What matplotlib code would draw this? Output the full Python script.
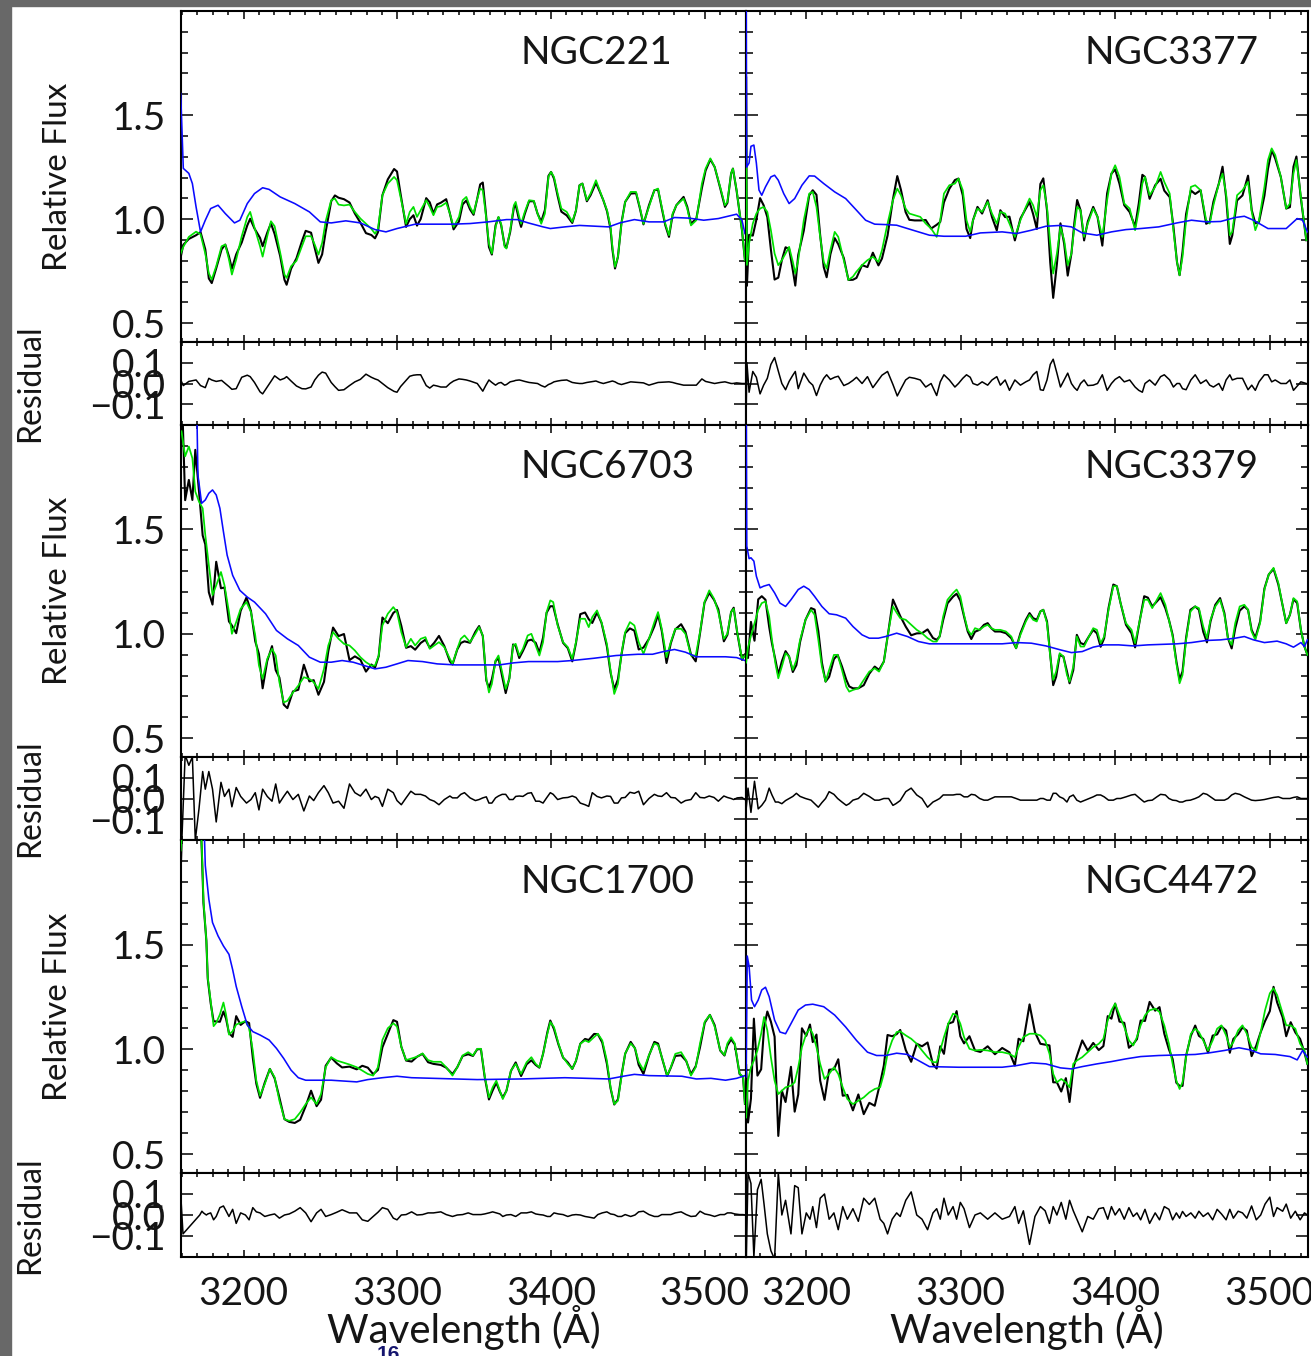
import numpy as np
import matplotlib
matplotlib.use("Agg")
import matplotlib.pyplot as plt
from matplotlib.ticker import MultipleLocator, FixedLocator, NullLocator
from matplotlib.patches import Rectangle

# ---------------------------------------------------------------------------
# spectra: wavelength (A), best fit (green), fit - data residual, and the
# template continuum (blue).  observed flux = fit - resid
# ---------------------------------------------------------------------------
ngc221_wave = [
    3159.1, 3160.8, 3164.4, 3169.1, 3172.0, 3175.1, 3177.4, 3179.3, 3182.2, 3185.7,
    3188.1, 3190.5, 3192.4, 3195.2, 3198.8, 3202.4, 3204.3, 3207.1, 3210.7, 3212.4,
    3215.4, 3217.8, 3220.2, 3223.8, 3226.6, 3228.0, 3230.9, 3234.4, 3238.0, 3240.4,
    3243.9, 3246.3, 3248.7, 3251.1, 3253.4, 3257.0, 3259.4, 3261.8, 3265.3, 3268.9,
    3272.4, 3276.0, 3279.6, 3283.1, 3285.5, 3287.4, 3290.3, 3293.8, 3297.9, 3299.8,
    3302.1, 3305.7, 3308.1, 3310.5, 3312.8, 3315.2, 3318.8, 3321.1, 3323.5, 3325.9,
    3328.3, 3331.8, 3334.2, 3336.6, 3340.1, 3342.5, 3344.9, 3347.3, 3349.6, 3352.0,
    3353.9, 3355.6, 3357.5, 3359.6, 3361.5, 3363.9, 3365.8, 3367.5, 3369.8, 3371.0,
    3373.4, 3375.8, 3377.0, 3379.3, 3380.5, 3382.9, 3385.7, 3388.8, 3391.2, 3393.6,
    3396.0, 3398.3, 3400.0, 3401.9, 3404.3, 3406.7, 3410.2, 3413.8, 3416.2, 3418.5,
    3420.4, 3423.3, 3425.7, 3429.2, 3431.6, 3434.0, 3436.4, 3438.7, 3439.9, 3441.6,
    3443.5, 3445.8, 3448.2, 3451.8, 3455.3, 3457.7, 3460.1, 3463.7, 3467.2, 3469.6,
    3472.0, 3474.3, 3476.7, 3479.1, 3481.5, 3486.2, 3488.6, 3491.0, 3494.5, 3498.1,
    3500.5, 3503.6, 3506.4, 3510.0, 3513.1, 3514.7, 3517.1, 3518.3, 3520.7, 3524.2,
    3526.1]
ngc221_fit = [
    0.835, 0.867, 0.915, 0.940, 0.928, 0.835, 0.740, 0.710, 0.774, 0.870,
    0.878, 0.806, 0.734, 0.806, 0.918, 1.010, 1.035, 0.960, 0.870, 0.820,
    0.918, 0.990, 0.966, 0.840, 0.734, 0.718, 0.774, 0.800, 0.870, 0.918,
    0.918, 0.878, 0.830, 0.886, 0.990, 1.091, 1.099, 1.070, 1.066, 1.070,
    1.035, 1.003, 0.978, 0.954, 0.930, 0.954, 1.115, 1.171, 1.203, 1.187,
    1.107, 0.978, 1.035, 1.059, 1.011, 1.043, 1.091, 1.059, 1.019, 1.059,
    1.062, 1.079, 1.027, 0.963, 1.011, 1.091, 1.107, 1.059, 1.027, 1.099,
    1.147, 1.139, 1.027, 0.883, 0.835, 0.962, 1.011, 0.978, 0.867, 0.859,
    0.946, 1.067, 1.083, 1.011, 0.978, 1.035, 1.091, 1.088, 1.027, 0.978,
    1.027, 1.203, 1.227, 1.203, 1.123, 1.051, 1.035, 0.987, 1.043, 1.163,
    1.171, 1.091, 1.123, 1.187, 1.139, 1.091, 1.043, 0.962, 0.867, 0.771,
    0.819, 0.978, 1.083, 1.131, 1.131, 1.059, 0.978, 1.059, 1.139, 1.147,
    1.059, 0.978, 0.923, 1.027, 1.067, 1.099, 1.051, 0.970, 0.995, 1.171,
    1.243, 1.292, 1.251, 1.155, 1.067, 1.083, 1.219, 1.243, 1.139, 0.946,
    0.803]
ngc221_resid = [
    0.017, -0.01, 0.01, 0.017, -0.01, -0.02, 0.025, 0.017, 0.01, 0.015,
    0.0, -0.015, -0.028, -0.025, 0.03, 0.04, 0.033, 0.005, -0.04, -0.05,
    -0.017, 0.01, 0.037, 0.017, 0.025, 0.033, 0.012, -0.012, -0.025, -0.026,
    -0.017, 0.017, 0.04, 0.055, 0.05, 0.005, -0.015, -0.033, -0.03, -0.01,
    0.008, 0.02, 0.045, 0.03, 0.022, 0.017, 0.0, -0.02, -0.038, -0.042,
    -0.015, 0.015, 0.035, 0.04, 0.042, 0.042, -0.01, -0.022, -0.008, -0.012,
    -0.017, -0.017, 0.0, 0.012, 0.022, 0.02, 0.017, 0.012, 0.006, 0.0,
    -0.02, -0.037, -0.01, 0.017, 0.005, -0.008, 0.002, 0.005, -0.008, -0.005,
    0.008, 0.012, 0.015, 0.017, 0.015, 0.01, 0.005, 0.002, 0.0, -0.01,
    -0.017, -0.005, 0.0, 0.008, 0.012, 0.015, 0.017, 0.005, 0.002, 0.0,
    0.0, 0.005, 0.008, 0.012, 0.005, 0.0, 0.005, 0.01, 0.012, 0.008,
    0.0, -0.005, 0.0, 0.008, 0.006, 0.005, 0.003, -0.008, 0.0, 0.005,
    0.006, 0.007, 0.008, 0.005, 0.0, -0.008, -0.008, -0.008, -0.008, 0.022,
    0.01, 0.005, 0.0, 0.005, 0.008, 0.005, 0.0, 0.0, 0.003, 0.0,
    0.0]
ngc221_cont_wave = [
    3159.1, 3160.8, 3164.4, 3166.7, 3169.1, 3172.0, 3175.1, 3178.6, 3183.4, 3188.1,
    3194.1, 3197.6, 3202.4, 3207.1, 3212.4, 3216.6, 3223.8, 3233.3, 3242.8, 3249.9,
    3257.0, 3266.5, 3276.0, 3285.5, 3292.6, 3299.8, 3311.6, 3335.4, 3347.3, 3359.1,
    3371.0, 3378.1, 3385.2, 3394.8, 3399.5, 3409.0, 3418.5, 3437.5, 3444.7, 3454.2,
    3463.7, 3473.2, 3480.3, 3489.8, 3499.3, 3508.8, 3520.7, 3524.2, 3526.1]
ngc221_cont = [
    1.604, 1.244, 1.220, 1.171, 1.059, 0.939, 0.995, 1.051, 1.067, 1.027,
    0.982, 0.995, 1.075, 1.123, 1.151, 1.143, 1.107, 1.075, 1.035, 0.987,
    0.982, 0.992, 0.982, 0.950, 0.939, 0.955, 0.976, 0.976, 0.979, 0.987,
    0.998, 0.998, 0.982, 0.963, 0.955, 0.963, 0.970, 0.963, 0.982, 0.998,
    0.987, 0.987, 1.008, 1.005, 0.995, 1.003, 1.024, 0.995, 0.931]

ngc3377_wave = [
    3161.1, 3161.6, 3163.0, 3165.4, 3167.7, 3170.1, 3172.4, 3174.8, 3177.1, 3179.5,
    3181.9, 3184.2, 3186.6, 3188.9, 3191.3, 3192.9, 3194.8, 3198.4, 3201.9, 3204.2,
    3206.6, 3209.0, 3211.3, 3213.2, 3215.6, 3218.4, 3220.7, 3224.3, 3227.3, 3230.2,
    3232.5, 3236.1, 3239.6, 3243.1, 3246.7, 3249.0, 3252.6, 3256.1, 3258.9, 3261.3,
    3264.3, 3266.7, 3270.2, 3273.8, 3277.3, 3280.8, 3284.4, 3286.7, 3289.1, 3292.6,
    3296.2, 3298.5, 3301.3, 3303.7, 3306.1, 3307.9, 3310.8, 3313.8, 3317.4, 3320.2,
    3323.3, 3325.6, 3328.7, 3331.5, 3335.0, 3338.6, 3342.1, 3344.5, 3346.8, 3349.2,
    3351.5, 3353.4, 3355.8, 3357.9, 3359.8, 3362.2, 3364.5, 3366.9, 3369.2, 3371.6,
    3373.5, 3375.3, 3377.5, 3379.8, 3382.2, 3385.7, 3388.5, 3391.6, 3394.7, 3397.5,
    3399.9, 3402.7, 3405.8, 3409.3, 3412.8, 3415.2, 3417.5, 3419.2, 3422.2, 3425.8,
    3429.3, 3431.7, 3435.2, 3437.6, 3439.9, 3441.6, 3443.5, 3445.8, 3448.9, 3451.7,
    3455.2, 3458.8, 3461.1, 3463.5, 3467.0, 3469.4, 3471.7, 3474.1, 3475.7, 3478.8,
    3482.3, 3485.9, 3488.3, 3490.6, 3493.0, 3496.5, 3498.8, 3501.2, 3503.5, 3507.1,
    3510.6, 3513.0, 3515.3, 3517.2, 3520.1, 3523.6]
ngc3377_fit = [
    1.54, 0.78, 0.883, 0.979, 1.027, 1.051, 1.059, 1.035, 0.947, 0.835,
    0.779, 0.803, 0.835, 0.867, 0.795, 0.739, 0.803, 0.995, 1.123, 1.131,
    1.059, 0.915, 0.795, 0.763, 0.851, 0.939, 0.915, 0.803, 0.708, 0.724,
    0.748, 0.779, 0.803, 0.819, 0.795, 0.851, 0.979, 1.091, 1.147, 1.115,
    1.051, 1.027, 1.019, 1.011, 0.979, 0.955, 0.915, 0.995, 1.123, 1.163,
    1.171, 1.195, 1.139, 0.995, 0.939, 0.995, 1.051, 1.035, 1.083, 1.027,
    0.979, 1.035, 1.027, 0.979, 0.915, 0.995, 1.059, 1.099, 1.067, 1.011,
    1.139, 1.163, 1.059, 0.883, 0.739, 0.835, 0.963, 0.899, 0.779, 0.835,
    0.963, 1.059, 1.043, 0.915, 0.979, 1.051, 1.011, 0.915, 1.091, 1.219,
    1.259, 1.203, 1.075, 1.051, 0.947, 1.043, 1.171, 1.203, 1.115, 1.155,
    1.227, 1.179, 1.123, 0.947, 0.795, 0.731, 0.819, 0.995, 1.155, 1.163,
    1.139, 0.995, 0.979, 1.067, 1.171, 1.219, 1.123, 0.923, 0.939, 1.115,
    1.139, 1.179, 1.035, 0.947, 0.995, 1.155, 1.284, 1.340, 1.308, 1.203,
    1.051, 1.075, 1.219, 1.284, 1.107, 0.899]
ngc3377_resid = [
    -0.14, 0.1, -0.042, 0.058, 0.03, -0.05, -0.008, 0.025, 0.092, 0.125,
    0.06, 0.0, -0.03, 0.01, 0.04, 0.058, -0.025, 0.05, 0.008, -0.008,
    -0.058, -0.008, 0.025, 0.042, 0.02, 0.03, 0.035, -0.01, 0.0, 0.015,
    0.03, 0.0, 0.033, -0.02, 0.017, 0.04, 0.058, -0.005, -0.06, -0.025,
    0.017, 0.03, 0.025, 0.017, -0.017, 0.0, -0.058, 0.008, 0.042, 0.017,
    -0.017, 0.0, 0.025, 0.042, 0.03, 0.0, -0.008, 0.008, -0.008, 0.017,
    0.033, -0.008, 0.017, -0.033, 0.017, -0.008, 0.008, 0.017, 0.042, 0.058,
    -0.03, -0.033, 0.017, 0.092, 0.117, 0.05, -0.017, 0.017, 0.05, 0.0,
    -0.02, -0.033, 0.0, 0.017, -0.01, -0.008, 0.0, 0.042, -0.033, 0.0,
    0.02, 0.033, 0.008, 0.017, -0.017, -0.033, -0.042, 0.0, 0.017, -0.008,
    0.033, 0.042, 0.017, -0.017, 0.0, 0.0, -0.025, -0.03, 0.017, 0.042,
    0.0, 0.017, -0.008, -0.017, 0.0, -0.033, 0.017, 0.042, 0.017, 0.025,
    0.025, -0.03, -0.008, -0.033, 0.008, 0.042, 0.042, 0.008, 0.017, 0.0,
    0.0, 0.017, -0.033, -0.017, 0.008, 0.0]
ngc3377_cont_wave = [
    3161.1, 3161.4, 3163.0, 3164.2, 3166.1, 3167.7, 3169.4, 3171.2, 3173.6, 3177.1,
    3179.5, 3181.9, 3185.4, 3188.9, 3192.5, 3197.2, 3201.9, 3205.4, 3211.3, 3218.4,
    3225.5, 3232.5, 3238.4, 3244.3, 3251.4, 3258.5, 3265.5, 3272.6, 3279.7, 3289.1,
    3303.2, 3312.7, 3326.8, 3336.2, 3345.7, 3355.1, 3364.5, 3371.6, 3378.6, 3388.1,
    3397.5, 3406.9, 3416.4, 3428.1, 3439.9, 3449.3, 3458.8, 3468.2, 3477.6, 3483.5,
    3489.4, 3498.8, 3510.6, 3517.7, 3521.2, 3524.3]
ngc3377_cont = [
    2.3, 1.25, 1.27, 1.35, 1.356, 1.27, 1.14, 1.115, 1.155, 1.203,
    1.211, 1.187, 1.123, 1.075, 1.099, 1.163, 1.208, 1.207, 1.171, 1.131,
    1.099, 1.043, 0.995, 0.976, 0.974, 0.971, 0.955, 0.939, 0.923, 0.918,
    0.918, 0.934, 0.939, 0.931, 0.947, 0.966, 0.970, 0.963, 0.934, 0.923,
    0.939, 0.950, 0.955, 0.963, 0.982, 0.995, 0.987, 0.989, 1.008, 1.014,
    0.995, 0.955, 0.955, 1.003, 0.995, 0.939]

ngc6703_wave = [
    3159.6, 3162.0, 3164.4, 3166.7, 3168.6, 3171.0, 3173.4, 3175.1, 3177.4, 3179.8,
    3182.2, 3185.3, 3187.6, 3190.5, 3192.4, 3195.2, 3198.1, 3201.9, 3204.8, 3207.6,
    3210.0, 3212.4, 3215.4, 3218.5, 3220.9, 3223.3, 3226.1, 3228.5, 3232.1, 3235.6,
    3239.2, 3242.8, 3245.6, 3248.7, 3252.3, 3255.1, 3258.2, 3261.8, 3265.3, 3268.9,
    3272.4, 3276.0, 3279.6, 3283.1, 3285.5, 3287.9, 3290.3, 3293.8, 3297.4, 3299.8,
    3302.6, 3305.7, 3308.8, 3311.6, 3315.2, 3318.3, 3321.1, 3324.0, 3327.1, 3330.6,
    3334.2, 3335.9, 3339.0, 3341.3, 3343.7, 3347.3, 3350.8, 3353.2, 3355.6, 3357.9,
    3359.6, 3361.5, 3363.9, 3365.8, 3368.2, 3370.5, 3372.9, 3375.3, 3377.0, 3379.3,
    3381.7, 3384.8, 3387.2, 3390.0, 3392.4, 3394.8, 3397.1, 3399.5, 3401.4, 3404.3,
    3407.8, 3410.9, 3413.8, 3416.2, 3419.0, 3422.1, 3424.5, 3426.8, 3429.9, 3432.8,
    3436.3, 3438.7, 3441.1, 3443.5, 3445.8, 3448.2, 3451.3, 3454.2, 3457.0, 3460.1,
    3463.7, 3467.2, 3469.6, 3472.0, 3475.1, 3477.9, 3480.8, 3484.6, 3487.4, 3491.0,
    3494.1, 3496.9, 3499.8, 3502.9, 3506.0, 3508.8, 3512.4, 3514.7, 3517.1, 3518.8,
    3521.1, 3524.2, 3526.1]
ngc6703_fit = [
    1.97, 1.85, 1.897, 1.841, 1.681, 1.633, 1.601, 1.473, 1.329, 1.185,
    1.232, 1.296, 1.232, 1.104, 1.0, 1.056, 1.12, 1.152, 1.104, 0.992,
    0.848, 0.784, 0.88, 0.928, 0.896, 0.768, 0.671, 0.679, 0.719, 0.752,
    0.792, 0.784, 0.768, 0.736, 0.832, 0.944, 1.008, 0.976, 0.952, 0.944,
    0.92, 0.888, 0.864, 0.848, 0.848, 0.896, 1.04, 1.096, 1.128, 1.104,
    1.008, 0.936, 0.976, 0.944, 0.976, 0.984, 0.928, 0.944, 0.96, 0.936,
    0.88, 0.856, 0.928, 0.976, 0.992, 0.96, 1.0, 1.032, 0.992, 0.784,
    0.719, 0.76, 0.872, 0.896, 0.816, 0.736, 0.784, 0.944, 0.952, 0.896,
    0.928, 0.992, 1.0, 0.944, 0.896, 0.96, 1.104, 1.16, 1.152, 1.04,
    0.96, 0.936, 0.88, 0.96, 1.072, 1.072, 1.032, 1.08, 1.112, 1.056,
    0.952, 0.824, 0.712, 0.76, 0.904, 1.008, 1.056, 1.04, 0.96, 0.904,
    0.976, 1.056, 1.104, 1.024, 0.888, 0.96, 1.024, 1.024, 1.0, 0.896,
    0.896, 1.008, 1.152, 1.208, 1.168, 1.104, 0.976, 1.0, 1.104, 1.12,
    1.008, 0.88, 0.896]
ngc6703_resid = [
    -0.25, 0.21, 0.16, 0.2, -0.2, -0.05, 0.13, 0.045, 0.13, 0.045,
    -0.113, 0.078, 0.01, 0.045, -0.04, 0.053, 0.01, -0.022, -0.005, 0.028,
    -0.055, 0.045, 0.01, -0.013, 0.07, -0.022, 0.01, 0.035, -0.005, 0.02,
    -0.06, 0.012, -0.01, 0.028, 0.062, 0.028, -0.022, -0.013, -0.047, 0.07,
    0.028, 0.012, 0.045, -0.005, 0.01, 0.003, -0.038, 0.045, 0.028, -0.01,
    -0.03, 0.003, 0.035, 0.02, 0.02, 0.012, -0.005, -0.013, -0.03, -0.005,
    0.012, 0.003, 0.003, 0.02, 0.028, 0.003, -0.01, -0.005, 0.003, 0.008,
    -0.022, -0.022, 0.003, 0.012, 0.02, 0.02, -0.005, -0.005, 0.01, 0.012,
    0.01, 0.025, 0.028, -0.013, -0.013, -0.022, 0.003, 0.028, 0.02, -0.005,
    0.003, 0.005, 0.012, 0.005, -0.022, -0.03, -0.038, 0.028, 0.01, 0.003,
    0.012, 0.01, -0.022, -0.022, 0.003, 0.005, 0.03, 0.025, 0.035, -0.03,
    0.0, 0.02, 0.012, 0.01, 0.028, 0.005, 0.003, -0.022, -0.01, -0.005,
    0.028, 0.005, 0.003, 0.012, 0.005, -0.013, 0.012, 0.005, 0.0, -0.005,
    0.003, 0.005, -0.005]
ngc6703_cont_wave = [
    3169.1, 3170.3, 3172.7, 3175.1, 3177.4, 3179.8, 3182.2, 3184.6, 3186.9, 3189.3,
    3192.9, 3197.6, 3202.4, 3207.1, 3214.3, 3221.4, 3228.5, 3235.6, 3242.8, 3249.9,
    3257.0, 3264.1, 3271.3, 3278.4, 3285.5, 3292.6, 3299.8, 3306.9, 3316.4, 3325.9,
    3337.8, 3352.0, 3366.3, 3375.8, 3385.3, 3404.3, 3413.8, 3428.0, 3442.3, 3456.5,
    3466.0, 3473.2, 3480.3, 3487.4, 3494.5, 3513.5, 3520.7, 3526.1]
ngc6703_cont = [
    2.3, 1.761, 1.625, 1.641, 1.673, 1.689, 1.665, 1.601, 1.489, 1.377,
    1.28, 1.208, 1.176, 1.152, 1.096, 1.016, 0.976, 0.944, 0.888, 0.864,
    0.864, 0.872, 0.864, 0.848, 0.832, 0.84, 0.856, 0.872, 0.867, 0.856,
    0.851, 0.851, 0.851, 0.861, 0.867, 0.867, 0.872, 0.883, 0.896, 0.902,
    0.902, 0.915, 0.925, 0.912, 0.89, 0.89, 0.886, 0.872]

ngc3379_wave = [
    3161.1, 3162.3, 3164.2, 3166.5, 3168.9, 3171.2, 3173.6, 3176.0, 3177.8, 3180.0,
    3181.9, 3184.2, 3186.6, 3188.9, 3191.3, 3193.6, 3196.0, 3199.5, 3203.1, 3205.4,
    3207.8, 3210.1, 3212.5, 3214.8, 3217.9, 3220.3, 3223.1, 3225.9, 3227.8, 3230.2,
    3233.7, 3237.2, 3240.8, 3244.3, 3247.1, 3250.2, 3253.3, 3256.1, 3258.0, 3260.8,
    3264.4, 3267.9, 3271.5, 3274.9, 3278.5, 3282.0, 3284.4, 3286.3, 3288.6, 3291.4,
    3295.0, 3297.3, 3299.7, 3302.1, 3304.5, 3306.8, 3309.2, 3312.2, 3315.0, 3317.4,
    3319.7, 3322.1, 3325.6, 3329.2, 3332.7, 3335.8, 3338.6, 3342.1, 3344.5, 3346.8,
    3349.2, 3351.5, 3353.4, 3355.8, 3357.9, 3359.8, 3361.7, 3364.0, 3366.4, 3368.7,
    3370.4, 3372.8, 3375.1, 3377.5, 3379.8, 3382.9, 3385.7, 3388.1, 3390.5, 3392.8,
    3395.6, 3398.7, 3401.0, 3403.4, 3406.9, 3410.5, 3412.8, 3415.9, 3418.7, 3421.1,
    3423.9, 3426.9, 3429.3, 3432.4, 3434.7, 3437.1, 3439.5, 3441.6, 3443.5, 3445.8,
    3448.6, 3451.7, 3454.1, 3456.9, 3459.3, 3461.6, 3464.7, 3467.8, 3470.6, 3472.9,
    3475.3, 3477.6, 3480.5, 3483.5, 3485.9, 3488.2, 3490.6, 3493.7, 3496.5, 3499.3,
    3502.4, 3505.5, 3508.4, 3510.6, 3513.0, 3515.3, 3517.7, 3520.1, 3522.4, 3524.3]
ngc3379_fit = [
    0.862, 0.934, 0.99, 1.05, 1.115, 1.147, 1.155, 1.083, 0.971, 0.859,
    0.787, 0.843, 0.907, 0.891, 0.827, 0.875, 0.971, 1.067, 1.115, 1.091,
    0.971, 0.843, 0.771, 0.827, 0.899, 0.899, 0.827, 0.747, 0.723, 0.731,
    0.739, 0.779, 0.819, 0.835, 0.819, 0.867, 1.019, 1.131, 1.107, 1.075,
    1.067, 1.043, 1.019, 1.003, 0.979, 0.963, 0.963, 0.987, 1.083, 1.163,
    1.195, 1.212, 1.179, 1.091, 1.019, 0.995, 1.027, 1.019, 1.035, 1.043,
    1.027, 1.019, 1.019, 1.011, 0.987, 0.931, 0.995, 1.059, 1.091, 1.067,
    1.059, 1.107, 1.115, 1.051, 0.891, 0.779, 0.819, 0.907, 0.891, 0.803,
    0.771, 0.843, 0.987, 0.939, 0.939, 0.987, 1.027, 1.019, 0.955, 0.987,
    1.115, 1.228, 1.228, 1.147, 1.051, 1.019, 0.955, 1.067, 1.163, 1.163,
    1.123, 1.163, 1.195, 1.139, 1.067, 0.987, 0.859, 0.763, 0.803, 0.971,
    1.107, 1.131, 1.123, 1.035, 0.979, 1.067, 1.131, 1.163, 1.091, 0.979,
    0.947, 1.051, 1.131, 1.139, 1.115, 1.011, 0.971, 1.051, 1.212, 1.284,
    1.316, 1.244, 1.131, 1.051, 1.091, 1.171, 1.155, 1.019, 0.939, 0.899]
ngc3379_resid = [
    -0.05, 0.05, -0.067, 0.083, -0.05, -0.033, -0.008, 0.05, 0.017, -0.017,
    -0.017, -0.025, -0.01, 0.0, 0.01, 0.025, 0.01, 0.0, -0.008, -0.025,
    -0.042, -0.02, 0.0, 0.033, 0.02, 0.0, -0.017, -0.033, -0.025, -0.008,
    0.0, 0.025, 0.01, -0.008, -0.008, 0.0, 0.0, -0.033, -0.025, -0.01,
    0.033, 0.05, 0.017, 0.0, -0.042, -0.017, -0.008, 0.0, 0.017, 0.017,
    0.017, 0.02, 0.02, 0.008, 0.008, 0.02, 0.017, 0.0, -0.008, -0.008,
    0.0, 0.008, 0.008, 0.008, 0.008, 0.0, -0.008, -0.008, -0.008, -0.008,
    -0.008, 0.0, 0.0, -0.008, -0.008, 0.025, 0.025, 0.008, 0.0, -0.017,
    0.008, 0.017, -0.008, -0.017, -0.01, 0.0, 0.008, 0.017, 0.017, 0.008,
    -0.008, -0.008, 0.0, 0.0, 0.008, 0.017, 0.02, 0.0, -0.017, -0.01,
    -0.008, 0.008, 0.02, 0.017, 0.0, -0.008, -0.01, -0.017, -0.017, -0.01,
    -0.008, 0.0, 0.008, 0.025, 0.02, 0.008, -0.008, -0.008, -0.008, 0.0,
    0.017, 0.025, 0.02, 0.008, 0.0, -0.008, -0.01, -0.008, -0.005, 0.0,
    0.005, 0.008, 0.0, 0.0, 0.0, 0.005, 0.008, 0.0, 0.0, 0.0]
ngc3379_cont_wave = [
    3161.1, 3161.5, 3163.0, 3164.2, 3166.1, 3167.7, 3170.1, 3172.4, 3176.0, 3179.5,
    3183.0, 3186.6, 3190.1, 3194.8, 3198.4, 3201.9, 3205.4, 3210.1, 3214.8, 3219.6,
    3225.5, 3230.2, 3236.1, 3240.8, 3246.7, 3251.4, 3258.5, 3265.5, 3272.6, 3279.7,
    3303.2, 3326.8, 3336.2, 3345.7, 3355.1, 3364.5, 3371.6, 3378.6, 3385.7, 3392.8,
    3402.2, 3411.6, 3421.1, 3439.9, 3449.3, 3458.8, 3468.2, 3477.6, 3483.5, 3489.4,
    3496.5, 3504.7, 3510.6, 3515.3, 3520.1, 3522.4, 3524.3]
ngc3379_cont = [
    2.3, 1.42, 1.36, 1.364, 1.348, 1.276, 1.22, 1.228, 1.236, 1.196,
    1.147, 1.131, 1.163, 1.212, 1.228, 1.212, 1.179, 1.131, 1.096, 1.091,
    1.075, 1.035, 0.995, 0.979, 0.979, 0.987, 1.003, 0.987, 0.963, 0.952,
    0.952, 0.952, 0.958, 0.955, 0.942, 0.923, 0.91, 0.915, 0.936, 0.947,
    0.947, 0.942, 0.947, 0.952, 0.958, 0.968, 0.971, 0.979, 0.987, 0.971,
    0.958, 0.965, 0.952, 0.936, 0.958, 0.939, 0.971]

ngc1700_wave = [
    3159.1, 3160.6, 3171.5, 3172.9, 3173.9, 3175.8, 3176.7, 3178.6, 3180.5, 3182.2,
    3184.6, 3186.9, 3188.6, 3190.5, 3192.9, 3195.2, 3198.1, 3201.2, 3203.6, 3206.0,
    3208.3, 3210.7, 3213.8, 3217.1, 3220.2, 3223.3, 3226.6, 3229.7, 3233.3, 3236.8,
    3240.4, 3243.9, 3247.5, 3250.4, 3253.4, 3257.0, 3260.6, 3264.1, 3268.9, 3273.6,
    3277.2, 3280.8, 3284.3, 3287.4, 3290.3, 3293.8, 3297.4, 3299.8, 3302.6, 3305.7,
    3309.3, 3312.8, 3316.4, 3320.0, 3323.5, 3328.3, 3331.8, 3335.9, 3339.0, 3342.5,
    3346.1, 3349.2, 3352.0, 3354.4, 3356.8, 3359.6, 3362.0, 3364.4, 3366.7, 3368.6,
    3371.0, 3373.9, 3377.0, 3380.5, 3384.1, 3387.2, 3390.0, 3392.4, 3394.8, 3397.6,
    3399.5, 3401.9, 3404.8, 3407.8, 3410.9, 3413.8, 3416.2, 3419.0, 3422.1, 3424.5,
    3428.0, 3430.4, 3433.3, 3436.3, 3438.7, 3441.1, 3443.5, 3445.8, 3448.2, 3451.8,
    3454.6, 3457.0, 3460.1, 3463.7, 3467.2, 3469.6, 3472.0, 3475.5, 3477.9, 3480.8,
    3484.6, 3487.9, 3491.0, 3494.1, 3496.9, 3500.0, 3503.3, 3506.4, 3510.0, 3512.8,
    3514.7, 3517.1, 3519.5, 3522.6, 3524.9, 3526.1]
ngc1700_fit = [
    1.95, 2.1, 2.2, 1.95, 1.71, 1.519, 1.343, 1.231, 1.111, 1.127,
    1.167, 1.224, 1.167, 1.071, 1.087, 1.119, 1.127, 1.135, 1.103, 0.995,
    0.851, 0.779, 0.835, 0.907, 0.867, 0.755, 0.667, 0.659, 0.667, 0.699,
    0.739, 0.771, 0.739, 0.787, 0.915, 0.963, 0.947, 0.939, 0.928, 0.915,
    0.899, 0.883, 0.875, 0.915, 1.045, 1.101, 1.125, 1.109, 1.013, 0.949,
    0.957, 0.965, 0.981, 0.949, 0.941, 0.941, 0.915, 0.875, 0.915, 0.971,
    0.987, 0.971, 1.003, 1.003, 0.875, 0.771, 0.819, 0.851, 0.803, 0.763,
    0.803, 0.899, 0.931, 0.883, 0.939, 0.963, 0.931, 0.915, 0.979, 1.075,
    1.131, 1.107, 1.029, 0.963, 0.931, 0.907, 0.947, 1.027, 1.043, 1.035,
    1.059, 1.075, 1.043, 0.947, 0.819, 0.739, 0.755, 0.869, 0.981, 1.029,
    1.005, 0.941, 0.901, 0.973, 1.029, 1.021, 0.965, 0.875, 0.915, 0.979,
    0.987, 0.947, 0.875, 0.915, 1.029, 1.133, 1.165, 1.109, 0.997, 0.973,
    1.029, 1.058, 1.029, 0.885, 0.869, 0.74]
ngc1700_resid = [
    0.1, -0.09, 0.0, 0.018, 0.01, 0.0, 0.005, 0.01, -0.023, -0.007,
    0.035, 0.043, 0.02, -0.007, 0.027, -0.04, 0.01, 0.0, -0.023, 0.035,
    0.015, 0.01, -0.007, 0.0, 0.005, -0.015, 0.0, 0.005, 0.018, 0.035,
    0.01, -0.032, 0.01, 0.027, -0.007, 0.002, 0.013, 0.025, 0.01, 0.01,
    -0.023, -0.03, -0.007, 0.013, 0.035, 0.027, -0.015, -0.023, 0.0, 0.002,
    0.015, 0.0, 0.002, 0.01, 0.01, 0.015, 0.002, -0.007, 0.0, 0.002,
    0.01, 0.002, 0.002, 0.002, 0.005, 0.01, 0.015, 0.01, 0.005, -0.007,
    0.0, 0.002, -0.007, 0.01, 0.01, 0.015, 0.005, 0.002, 0.0, -0.007,
    -0.007, 0.01, 0.005, 0.002, -0.007, 0.0, 0.002, 0.0, -0.007, -0.01,
    -0.015, 0.002, 0.01, 0.015, 0.005, 0.002, -0.007, -0.007, 0.002, -0.007,
    0.0, 0.015, 0.018, 0.002, -0.007, -0.007, 0.002, 0.002, 0.002, 0.01,
    0.015, 0.002, -0.007, -0.005, 0.018, 0.005, 0.0, -0.007, 0.002, 0.002,
    0.01, 0.01, 0.005, 0.002, 0.002, 0.0]
ngc1700_cont_wave = [
    3173.4, 3175.1, 3177.4, 3179.8, 3183.4, 3186.9, 3190.5, 3192.9, 3195.2, 3198.8,
    3202.4, 3206.0, 3210.7, 3216.6, 3221.4, 3226.1, 3230.9, 3235.6, 3240.4, 3257.0,
    3273.6, 3280.8, 3290.3, 3299.8, 3309.3, 3337.8, 3352.0, 3380.5, 3409.0, 3437.5,
    3447.0, 3454.2, 3463.7, 3485.1, 3494.5, 3504.0, 3513.5, 3520.7, 3526.1]
ngc1700_cont = [
    2.3, 1.878, 1.718, 1.606, 1.542, 1.494, 1.454, 1.381, 1.301, 1.205,
    1.117, 1.085, 1.069, 1.045, 1.005, 0.957, 0.901, 0.865, 0.853, 0.853,
    0.845, 0.856, 0.865, 0.872, 0.865, 0.859, 0.856, 0.859, 0.865, 0.859,
    0.872, 0.881, 0.875, 0.872, 0.859, 0.862, 0.853, 0.862, 0.875]

ngc4472_wave = [
    3161.1, 3162.3, 3164.2, 3166.1, 3168.4, 3170.8, 3172.7, 3174.8, 3177.1, 3179.5,
    3181.9, 3184.2, 3186.6, 3190.1, 3192.5, 3194.8, 3197.2, 3200.0, 3202.4, 3204.2,
    3206.6, 3209.0, 3211.8, 3214.8, 3217.9, 3220.7, 3223.6, 3226.6, 3230.2, 3233.7,
    3237.2, 3240.8, 3244.3, 3247.8, 3250.2, 3252.6, 3255.6, 3258.5, 3260.8, 3264.4,
    3267.9, 3271.5, 3274.9, 3278.5, 3282.0, 3284.4, 3286.7, 3289.1, 3291.9, 3295.0,
    3297.3, 3299.7, 3302.1, 3305.6, 3309.2, 3312.7, 3317.4, 3322.1, 3326.8, 3331.5,
    3335.0, 3337.4, 3340.5, 3344.5, 3348.0, 3351.5, 3354.6, 3357.4, 3359.8, 3362.2,
    3365.0, 3368.0, 3370.4, 3372.8, 3375.1, 3378.6, 3382.2, 3385.7, 3389.3, 3392.3,
    3395.1, 3397.5, 3399.9, 3402.7, 3405.8, 3408.8, 3411.6, 3414.0, 3416.4, 3419.2,
    3422.2, 3425.8, 3428.6, 3431.7, 3434.7, 3437.1, 3439.5, 3441.6, 3443.5, 3445.8,
    3448.9, 3451.7, 3454.1, 3456.9, 3460.0, 3463.0, 3465.9, 3468.7, 3471.7, 3474.1,
    3476.4, 3479.5, 3482.3, 3485.1, 3488.2, 3491.2, 3494.1, 3496.9, 3500.0, 3502.4,
    3504.7, 3508.3, 3510.6, 3513.5, 3516.5, 3519.6, 3522.4, 3524.3]
ngc4472_fit = [
    0.675, 0.851, 0.915, 0.947, 0.995, 1.075, 1.155, 1.091, 0.963, 0.851,
    0.787, 0.803, 0.819, 0.827, 0.843, 0.915, 1.011, 1.075, 1.099, 1.075,
    1.011, 0.931, 0.859, 0.883, 0.915, 0.883, 0.819, 0.763, 0.739, 0.755,
    0.771, 0.795, 0.811, 0.819, 0.883, 0.979, 1.043, 1.083, 1.086, 1.067,
    1.051, 1.027, 0.995, 0.963, 0.939, 0.939, 0.995, 1.059, 1.123, 1.171,
    1.163, 1.123, 1.059, 1.003, 0.995, 0.998, 0.995, 0.987, 0.987, 0.979,
    0.963, 1.011, 1.059, 1.075, 1.075, 1.067, 1.043, 0.979, 0.883, 0.843,
    0.859, 0.843, 0.819, 0.931, 0.947, 0.963, 0.987, 1.011, 1.027, 1.051,
    1.139, 1.187, 1.219, 1.163, 1.107, 1.043, 1.019, 1.059, 1.115, 1.163,
    1.187, 1.195, 1.179, 1.115, 1.027, 0.931, 0.851, 0.811, 0.843, 0.963,
    1.075, 1.099, 1.083, 1.043, 0.995, 1.043, 1.099, 1.115, 1.067, 1.011,
    1.035, 1.091, 1.115, 1.075, 1.011, 0.995, 1.083, 1.187, 1.268, 1.292,
    1.26, 1.171, 1.115, 1.115, 1.099, 1.027, 0.995, 0.931]
ngc4472_resid = [
    -0.25, 0.2, 0.15, -0.2, 0.12, 0.17, 0.05, -0.09, -0.17, -0.21,
    0.2, 0.0, 0.07, -0.09, 0.14, 0.13, -0.09, 0.01, -0.02, 0.04,
    -0.06, 0.08, 0.1, -0.02, 0.01, -0.07, 0.04, -0.02, 0.03, -0.03,
    0.08, 0.05, 0.08, -0.02, -0.04, -0.09, -0.02, 0.01, -0.007, 0.07,
    0.11, 0.0, -0.02, -0.07, 0.01, 0.03, -0.02, 0.08, 0.0, 0.04,
    -0.02, 0.06, 0.03, -0.06, 0.0, 0.01, -0.02, 0.01, -0.02, -0.007,
    0.04, -0.04, 0.02, -0.14, -0.007, 0.04, 0.02, -0.04, 0.04, 0.0,
    0.06, -0.02, 0.07, 0.02, -0.02, -0.08, -0.007, -0.02, 0.03, 0.035,
    -0.02, 0.04, 0.0, 0.03, -0.02, 0.035, -0.007, 0.01, -0.023, 0.027,
    -0.04, 0.01, -0.023, 0.04, 0.027, -0.023, 0.01, -0.015, 0.017, -0.007,
    0.01, -0.015, 0.018, -0.007, 0.01, -0.023, 0.027, 0.005, -0.023, 0.027,
    -0.015, 0.018, 0.01, -0.015, 0.043, -0.023, 0.0, 0.052, 0.085, -0.007,
    0.035, 0.018, 0.052, -0.015, 0.018, -0.023, 0.01, 0.0]
ngc4472_cont_wave = [
    3161.1, 3161.8, 3163.0, 3164.6, 3166.5, 3168.9, 3171.2, 3173.6, 3176.0, 3179.5,
    3183.0, 3186.6, 3190.1, 3194.8, 3199.5, 3204.2, 3211.3, 3218.4, 3225.5, 3232.5,
    3239.6, 3245.5, 3251.4, 3258.5, 3265.5, 3272.6, 3279.7, 3298.5, 3326.8, 3336.2,
    3345.7, 3355.1, 3364.5, 3371.6, 3378.6, 3388.1, 3397.5, 3406.9, 3416.4, 3428.1,
    3451.7, 3461.1, 3470.6, 3480.0, 3487.1, 3494.1, 3503.5, 3513.0, 3517.7, 3521.2,
    3524.3]
ngc4472_cont = [
    0.869, 1.446, 1.397, 1.236, 1.204, 1.236, 1.284, 1.297, 1.252, 1.14,
    1.083, 1.075, 1.123, 1.188, 1.212, 1.216, 1.204, 1.164, 1.107, 1.043,
    0.987, 0.971, 0.971, 0.982, 0.976, 0.947, 0.918, 0.915, 0.915, 0.923,
    0.936, 0.931, 0.912, 0.907, 0.918, 0.931, 0.942, 0.955, 0.966, 0.971,
    0.976, 0.984, 0.995, 1.008, 0.998, 0.979, 0.976, 0.966, 0.95, 0.995,
    0.963]

galaxy_names = ["NGC221", "NGC3377", "NGC6703", "NGC3379", "NGC1700", "NGC4472"]
flux_ticks = [0.5, 1.0, 1.5]
flux_tick_labels = ["0.5", "1.0", "1.5"]
resid_ticks = [-0.1, 0.0, 0.1]
resid_tick_labels = ["\u22120.1", "0.0", "0.1"]
wave_ticks = [3200, 3300, 3400, 3500]
wave_tick_labels = ["3200", "3300", "3400", "3500"]

# ---------------------------------------------------------------------------
FIG_W, FIG_H = 1311, 1356
PT = 0.72  # points per pixel at dpi=100
GREEN = "#00e000"
BLUE = "#0a0aff"
INK = "#151515"

plt.rcParams["font.family"] = ["Lato", "DejaVu Sans"]
plt.rcParams["font.weight"] = "normal"


def frac_box(x0, y0, x1, y1):
    """pixel box from the top-left corner -> figure fraction rect"""
    return [x0 / FIG_W, 1 - y1 / FIG_H, (x1 - x0) / FIG_W, (y1 - y0) / FIG_H]


# column: pixel span + wavelength range; row: flux top, flux/resid split, bottom
columns = [(181, 746, 3159.3, 3526.8), (746, 1308, 3161.0, 3524.7)]
rows = [(11, 342, 425), (425, 757, 840), (840, 1173, 1257)]

spectra = {
    "NGC221": (ngc221_wave, ngc221_fit, ngc221_resid, ngc221_cont_wave, ngc221_cont),
    "NGC3377": (ngc3377_wave, ngc3377_fit, ngc3377_resid, ngc3377_cont_wave, ngc3377_cont),
    "NGC6703": (ngc6703_wave, ngc6703_fit, ngc6703_resid, ngc6703_cont_wave, ngc6703_cont),
    "NGC3379": (ngc3379_wave, ngc3379_fit, ngc3379_resid, ngc3379_cont_wave, ngc3379_cont),
    "NGC1700": (ngc1700_wave, ngc1700_fit, ngc1700_resid, ngc1700_cont_wave, ngc1700_cont),
    "NGC4472": (ngc4472_wave, ngc4472_fit, ngc4472_resid, ngc4472_cont_wave, ngc4472_cont),
}


def style_axes(ax, xlim, ylim, yticks, ylabels, yminor, left_col, bottom):
    ax.set_xlim(*xlim)
    ax.set_ylim(*ylim)
    for sp in ax.spines.values():
        sp.set_linewidth(1.5)
    ax.xaxis.set_major_locator(FixedLocator(wave_ticks))
    ax.xaxis.set_minor_locator(MultipleLocator(10))
    ax.yaxis.set_major_locator(FixedLocator(yticks))
    if yminor:
        ax.yaxis.set_minor_locator(MultipleLocator(yminor))
    else:
        ax.yaxis.set_minor_locator(NullLocator())
    ax.tick_params(which="both", direction="in", top=True, right=True,
                   width=1.1, color="black", labelsize=28, labelcolor=INK)
    ax.tick_params(axis="x", which="major", length=7.5 * PT, pad=14)
    ax.tick_params(axis="x", which="minor", length=4 * PT)
    ax.tick_params(axis="y", which="major", length=12 * PT, pad=11)
    ax.tick_params(axis="y", which="minor", length=7 * PT)
    ax.tick_params(labelleft=left_col, labelbottom=bottom)
    if left_col:
        ax.set_yticklabels(ylabels)
    if bottom:
        ax.set_xticklabels(wave_tick_labels)


fig = plt.figure(figsize=(FIG_W / 100, FIG_H / 100), dpi=100)
fig.patch.set_facecolor("white")

for i, name in enumerate(galaxy_names):
    col, row = i % 2, i // 2
    cx0, cx1, w0, w1 = columns[col]
    top, mid, bot = rows[row]
    wave, fit, resid, cwave, cont = (np.asarray(a, dtype=float) for a in spectra[name])
    obs = fit - resid

    axf = fig.add_axes(frac_box(cx0, top, cx1, mid))
    axr = fig.add_axes(frac_box(cx0, mid, cx1, bot))

    # observed spectrum underneath, fit drawn over it, continuum on top
    axf.plot(wave, obs, color="black", lw=1.5, zorder=2)
    axf.plot(wave, fit, color=GREEN, lw=1.25, zorder=3)
    axf.plot(cwave, cont, color=BLUE, lw=1.15, zorder=4)
    axf.text(3380, 1.80, name, fontsize=28, color=INK, ha="left", va="center")

    axr.plot(wave, resid, color="black", lw=1.1, zorder=2)

    style_axes(axf, (w0, w1), (0.41, 2.0), flux_ticks, flux_tick_labels, 0.1,
               col == 0, False)
    style_axes(axr, (w0, w1), (-0.2, 0.2), resid_ticks, resid_tick_labels, None,
               col == 0, row == 2)

    if col == 0:
        fig.text(58 / FIG_W, 1 - (top + mid) / 2 / FIG_H, "Relative Flux",
                 rotation=90, fontsize=24, color=INK, ha="center", va="center")
        fig.text(30 / FIG_W, 1 - (mid + bot) / 2 / FIG_H, "Residual",
                 rotation=90, fontsize=23, color=INK, ha="center", va="center")
    if row == 2:
        fig.text((cx0 + cx1) / 2 / FIG_W, 1 - 1328 / FIG_H, "Wavelength (\u00c5)",
                 fontsize=29, color=INK, ha="center", va="center")

# page frame and folio
fig.patches.append(Rectangle((0, 0), 11 / FIG_W, 1, transform=fig.transFigure,
                             color="#686868", zorder=0))
fig.patches.append(Rectangle((0, 1 - 6 / FIG_H), 1, 6 / FIG_H, transform=fig.transFigure,
                             color="#686868", zorder=0))
fig.text(388 / FIG_W, -4 / FIG_H, "16", color="#15156e", fontsize=15,
         fontweight="bold", family=["Liberation Sans", "DejaVu Sans"],
         ha="center", va="baseline")

fig.savefig("out.png", dpi=100)
